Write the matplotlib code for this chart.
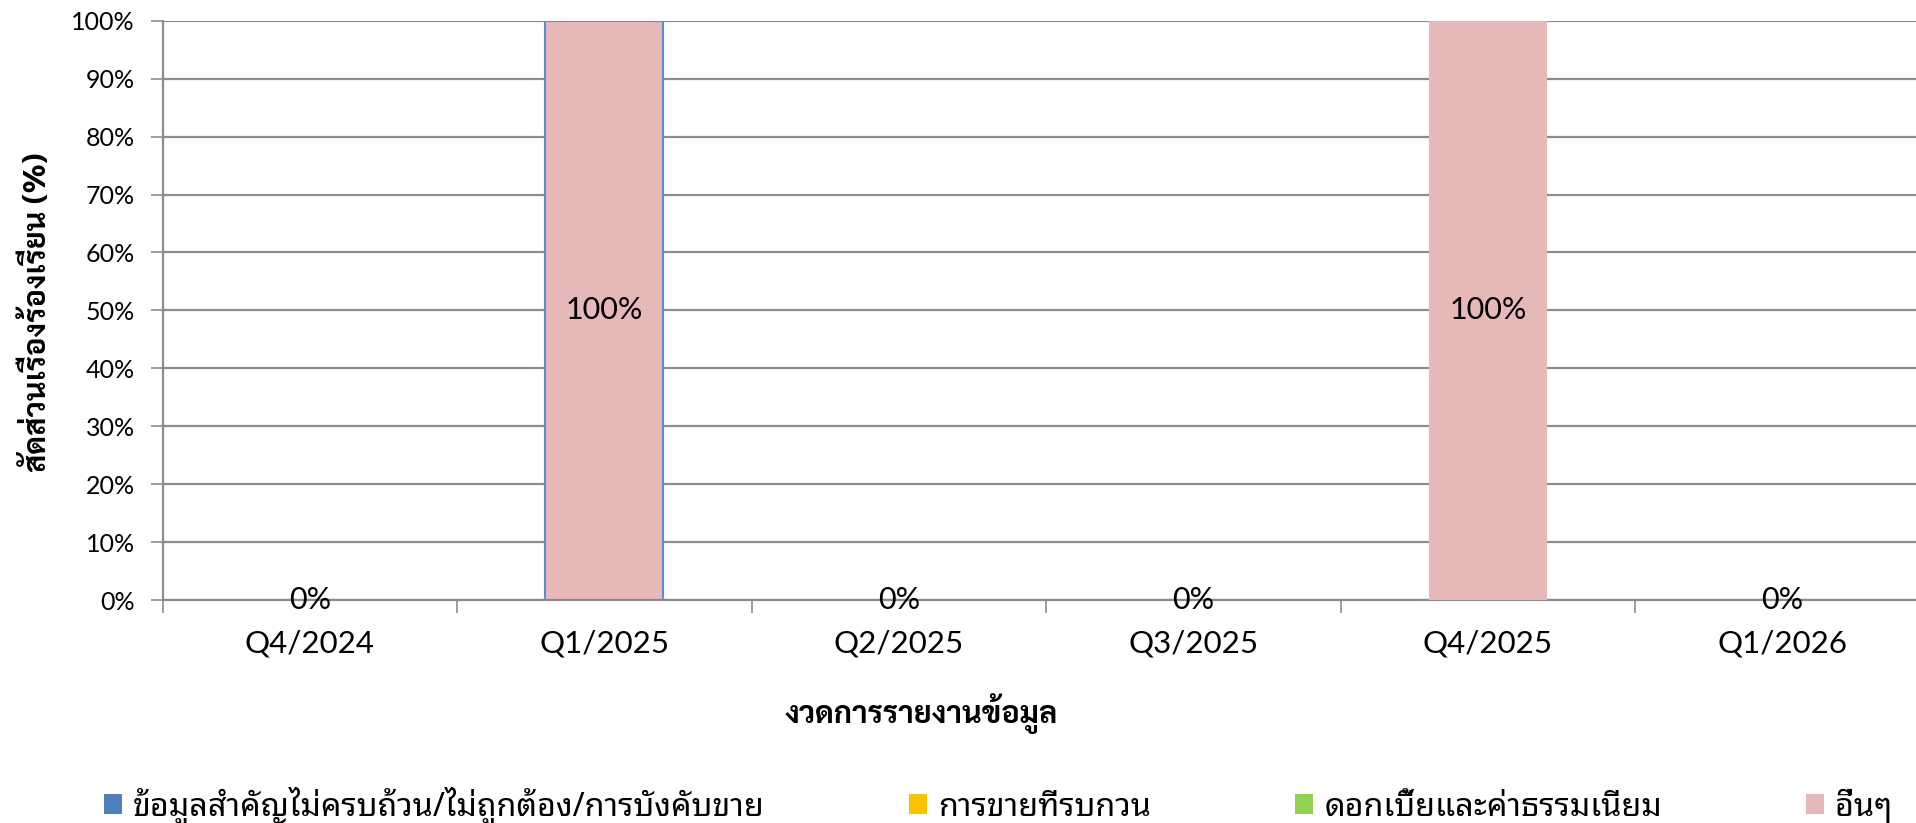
import matplotlib
matplotlib.use("Agg")
import matplotlib.pyplot as plt
from matplotlib import font_manager
from matplotlib.ft2font import FT2Font
from matplotlib.patches import Patch
import numpy as np

categories = ['Q4/2024', 'Q1/2025', 'Q2/2025', 'Q3/2025', 'Q4/2025', 'Q1/2026']
series_names = ['ข้อมูลสำคัญไม่ครบถ้วน/ไม่ถูกต้อง/การบังคับขาย', 'การขายทีรบกวน',
                'ดอกเบี้ยและค่าธรรมเนียม', 'อื่นๆ']
info_vals = [0, 0, 0, 0, 0, 0]
sales_vals = [0, 0, 0, 0, 0, 0]
fee_vals = [0, 0, 0, 0, 0, 0]
other_vals = [0, 100, 0, 0, 100, 0]
y_ticks = [0, 10, 20, 30, 40, 50, 60, 70, 80, 90, 100]
x_title = 'งวดการรายงานข้อมูล'
y_title = 'สัดส่วนเรื่องร้องเรียน (%)'
colors = ['#4F81BD', '#FFC000', '#92D050', '#E6B9B8']

# pick installed Thai fonts (regular + one with a bold face)
thai_reg, thai_bold = set(), set()
for f in font_manager.fontManager.ttflist:
    try:
        if 0x0E01 in FT2Font(f.fname).get_charmap():
            thai_reg.add(f.name)
            w = f.weight if isinstance(f.weight, int) else 400
            if w >= 600 or 'Bold' in f.fname:
                thai_bold.add(f.name)
    except Exception:
        pass
prefs = ['Noto Sans Thai Looped', 'Noto Looped Thai', 'Noto Sans Thai UI', 'Noto Sans Thai', 'Sarabun']
thai_font = next((c for c in prefs if c in thai_reg), 'DejaVu Sans')
thai_bold_font = next((c for c in prefs if c in thai_bold), thai_font)
THAI = [thai_font, 'DejaVu Sans']
THAI_B = [thai_bold_font, 'DejaVu Sans']
LAT = ['Lato', 'DejaVu Sans']
plt.rcParams['font.family'] = THAI

fig = plt.figure(figsize=(19.16, 8.23), dpi=100)
ax = fig.add_axes([162.5/1916, 1-600/823, 1767/1916, (600-20.8)/823])
x = np.arange(len(categories))
bottom = np.zeros(len(categories))
all_vals = [info_vals, sales_vals, fee_vals, other_vals]
for vals, c, n in zip(all_vals, colors, series_names):
    v = np.array(vals, float)
    bars = ax.bar(x, v, 0.4, bottom=bottom, color=c, label=n, zorder=3, linewidth=0)
    bottom += v
    if n == series_names[-1]:
        bars[1].set_edgecolor('#5B8BD0')
        bars[1].set_linewidth(1.5)
totals = bottom
for xi, t in zip(x, totals):
    if t == 0:
        ax.text(xi, 0.0, '0%', ha='center', va='center', fontsize=22, family=LAT, zorder=5)
    else:
        ax.text(xi, t / 2, '%d%%' % t, ha='center', va='center', fontsize=22, family=LAT, zorder=5)

ax.set_xlim(-0.5, 5.5)
ax.set_ylim(0, 100)
ax.set_yticks(y_ticks)
ax.set_yticklabels(['%d%%' % v for v in y_ticks], family=LAT, fontsize=18)
ax.yaxis.grid(True, color='#8C8C8C', linewidth=1.6, zorder=0)
ax.set_xticks(x)
ax.set_xticklabels(categories, family=LAT, fontsize=22.5)
ax.set_xticks(np.arange(-0.5, 6, 1), minor=True)
ax.tick_params(axis='x', which='major', length=0, pad=21)
ax.tick_params(axis='x', which='minor', length=9, width=1.2, color='#8C8C8C', direction='out')
ax.tick_params(axis='y', length=9, width=1.2, color='#8C8C8C', direction='out', pad=11)
for s in ['top', 'right']:
    ax.spines[s].set_visible(False)
ax.spines['left'].set_color('#8C8C8C')
ax.spines['left'].set_linewidth(1.6)
ax.spines['bottom'].set_color('#8C8C8C')
ax.spines['bottom'].set_linewidth(1.6)
ax.set_axisbelow(True)

fig.text(921/1916, 1 - 714/823, x_title, ha='center', va='center',
         fontsize=22, fontweight='bold', family=THAI_B)
fig.text(37/1916, 1 - 312/823, y_title, ha='center', va='center', rotation=90,
         fontsize=22, fontweight='bold', family=THAI_B)

handles = [Patch(facecolor=c, edgecolor='none') for c in colors]
fig.legend(handles, series_names, loc='center left', bbox_to_anchor=(104/1916, 1 - 806/823),
           ncol=4, frameon=False, fontsize=23.3, handlelength=0.55, handleheight=0.55,
           handletextpad=0.35, columnspacing=4.45, borderaxespad=0, borderpad=0)
fig.savefig('out.png', dpi=100)
